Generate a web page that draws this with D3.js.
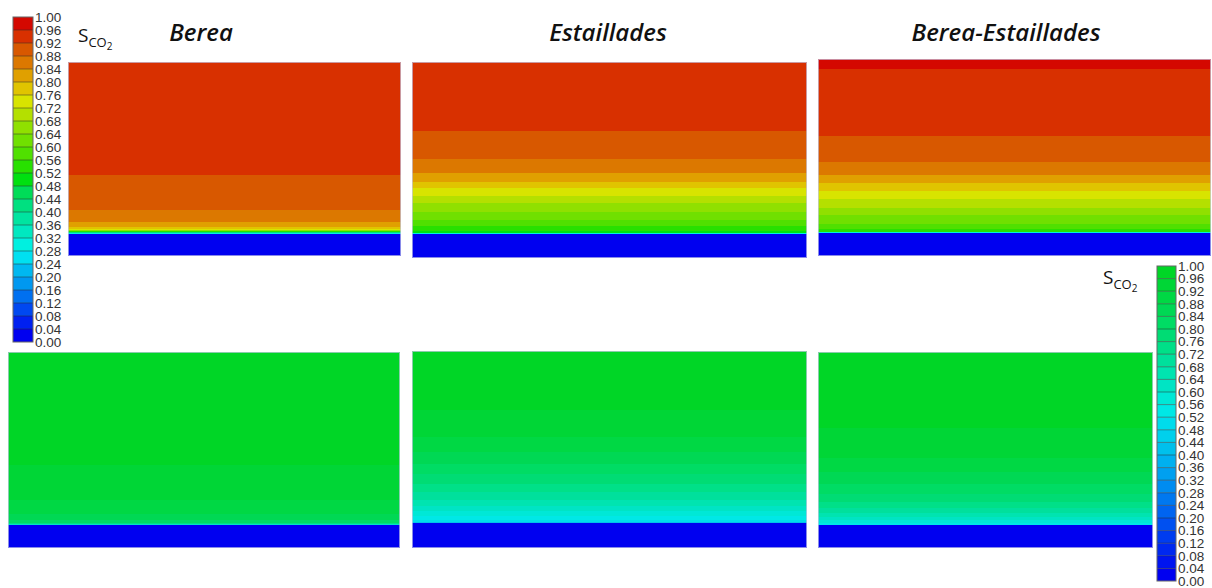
<!DOCTYPE html>
<html>
<head>
<meta charset="utf-8">
<script src="https://cdn.jsdelivr.net/npm/d3@7"></script>
<style>
  html, body { margin: 0; padding: 0; background: #fff; }
  svg { display: block; }
</style>
</head>
<body>
<svg id="chart" width="1212" height="588"></svg>
<script>
// ---- contour levels and colour tables -------------------------------------
const levels = d3.range(0, 25.5, 1).map(i => +(i * 0.04).toFixed(2));   // 0.00 … 1.00
const tickLabels = levels.map(v => v.toFixed(2));

// drainage palette (low → high saturation)
const drainColors = [
  "#0000f0", "#0020f0", "#0048f0", "#0070f0", "#0098f0", "#00b8f0", "#00e0f0",
  "#00f0e0", "#00e8c0", "#00e4a0", "#00e080", "#00dc58", "#00e010", "#28e000",
  "#50e000", "#70e000", "#90e000", "#b4e000", "#d8e400", "#e0c400", "#e0a000",
  "#dc7800", "#d85800", "#d83000", "#d40800"
];
// imbibition palette (low → high saturation)
const imbColors = [
  "#0000f0", "#0014f0", "#0028f0", "#003cf0", "#0050f0", "#0064f0", "#0078f0",
  "#008cf0", "#00a0f0", "#00b0f0", "#00c0ec", "#00d0ec", "#00dcec", "#00e8e6",
  "#00e8d6", "#00e4c4", "#00e4b0", "#00e09c", "#00e088", "#00dc74", "#00dc64",
  "#00d854", "#00d844", "#00d636", "#00d626"
];

// ---- saturation profiles: band edges (depth, % of sample) and S_CO2 per band
// drainage (top row)
const drainBereaDepth = [0, 58.2, 76.3, 82.5, 85.1, 86.1, 86.6, 87.1, 87.6, 88.1, 88.7, 100];
const drainBereaS     = [0.94, 0.90, 0.86, 0.82, 0.78, 0.74, 0.66, 0.54, 0.42, 0.30, 0.02];

const drainEstDepth = [0, 35.2, 49.5, 56.6, 61.2, 64.3, 68.4, 71.9, 76.5, 80.6, 83.7, 86.2, 87.2, 87.8, 100];
const drainEstS     = [0.94, 0.90, 0.86, 0.82, 0.78, 0.74, 0.70, 0.66, 0.62, 0.58, 0.54, 0.50, 0.30, 0.02];

const drainBEDepth = [0, 5.1, 39.1, 52.3, 58.9, 62.9, 67.0, 71.1, 75.6, 79.2, 83.8, 86.3, 87.8, 88.3, 100];
const drainBES     = [0.98, 0.94, 0.90, 0.86, 0.82, 0.78, 0.74, 0.70, 0.66, 0.62, 0.58, 0.52, 0.30, 0.02];

// imbibition (bottom row)
const imbBereaDepth = [0, 57.7, 75.5, 82.7, 85.7, 87.2, 87.8, 88.3, 100];
const imbBereaS     = [0.98, 0.94, 0.90, 0.86, 0.82, 0.74, 0.60, 0.02];

const imbEstDepth = [0, 29.9, 43.7, 51.3, 57.4, 62.4, 67.5, 71.6, 75.6, 78.7, 81.2, 83.8, 85.8, 86.8, 87.3, 100];
const imbEstS     = [0.98, 0.94, 0.90, 0.86, 0.82, 0.78, 0.74, 0.70, 0.66, 0.62, 0.58, 0.54, 0.50, 0.40, 0.02];

const imbBEDepth = [0, 38.8, 54.1, 61.2, 67.3, 72.4, 76.5, 79.6, 82.1, 84.2, 85.7, 87.2, 88.3, 100];
const imbBES     = [0.98, 0.94, 0.90, 0.86, 0.82, 0.78, 0.74, 0.70, 0.66, 0.62, 0.58, 0.54, 0.02];

const titles = ["Berea", "Estaillades", "Berea-Estaillades"];

// ---- scales ---------------------------------------------------------------
const drainColor = d3.scaleQuantize().domain([0, 1]).range(drainColors);
const imbColor   = d3.scaleQuantize().domain([0, 1]).range(imbColors);

const svg = d3.select("#chart");
const fontSans = "'Open Sans', 'Noto Sans', sans-serif";

// ---- panel layout ---------------------------------------------------------
const panels = [
  { x0: 68,  x1: 401,  y0: 62,  y1: 256, depth: drainBereaDepth, s: drainBereaS, color: drainColor },
  { x0: 412, x1: 807,  y0: 62,  y1: 258, depth: drainEstDepth,   s: drainEstS,   color: drainColor },
  { x0: 818, x1: 1211, y0: 59,  y1: 256, depth: drainBEDepth,    s: drainBES,    color: drainColor },
  { x0: 8,   x1: 400,  y0: 352, y1: 548, depth: imbBereaDepth,   s: imbBereaS,   color: imbColor },
  { x0: 412, x1: 807,  y0: 351, y1: 548, depth: imbEstDepth,     s: imbEstS,     color: imbColor },
  { x0: 818, x1: 1153, y0: 352, y1: 548, depth: imbBEDepth,      s: imbBES,      color: imbColor }
];

panels.forEach(p => {
  const y = d3.scaleLinear().domain([0, 100]).range([p.y0, p.y1]);
  const x = d3.scaleLinear().domain([0, 1]).range([p.x0, p.x1]);
  const bands = p.s.map((v, i) => ({ v, d0: p.depth[i], d1: p.depth[i + 1] }));
  const g = svg.append("g");
  g.selectAll("rect.band")
    .data(bands)
    .join("rect")
    .attr("class", "band")
    .attr("x", x(0))
    .attr("width", x(1) - x(0))
    .attr("y", d => y(d.d0))
    .attr("height", d => y(d.d1) - y(d.d0))
    .attr("fill", d => p.color(d.v))
    .attr("shape-rendering", "crispEdges");
  g.append("rect")
    .attr("x", x(0) + 0.5).attr("y", y(0) + 0.5)
    .attr("width", x(1) - x(0) - 1).attr("height", y(100) - y(0) - 1)
    .attr("fill", "none")
    .attr("stroke", "#c4c8e6")
    .attr("stroke-opacity", 0.7)
    .attr("stroke-width", 1);
});

// ---- titles ---------------------------------------------------------------
const titleX = [201, 608, 1006];
svg.selectAll("text.title")
  .data(titles)
  .join("text")
  .attr("class", "title")
  .attr("x", (d, i) => titleX[i])
  .attr("y", 41)
  .attr("text-anchor", "middle")
  .attr("font-family", fontSans)
  .attr("font-weight", 600)
  .attr("font-style", "italic")
  .attr("font-size", 24)
  .attr("fill", "#111")
  .text(d => d);

// ---- colour legends -------------------------------------------------------
function legend(cfg) {
  const y = d3.scaleLinear().domain([0, 1]).range([cfg.y1, cfg.y0]);
  const g = svg.append("g");
  const bins = levels.slice(0, -1).map((v, i) => ({ lo: v, hi: levels[i + 1] }));
  g.selectAll("rect.bin")
    .data(bins)
    .join("rect")
    .attr("x", cfg.x)
    .attr("width", cfg.w)
    .attr("y", d => y(d.hi))
    .attr("height", d => y(d.lo) - y(d.hi))
    .attr("fill", d => cfg.color((d.lo + d.hi) / 2));
  g.selectAll("line.sep")
    .data(levels.slice(1, -1))
    .join("line")
    .attr("x1", cfg.x).attr("x2", cfg.x + cfg.w)
    .attr("y1", d => y(d)).attr("y2", d => y(d))
    .attr("stroke", "#2a2a2a")
    .attr("stroke-opacity", 0.55)
    .attr("stroke-width", 0.9);
  g.append("rect")
    .attr("x", cfg.x).attr("y", cfg.y0)
    .attr("width", cfg.w).attr("height", cfg.y1 - cfg.y0)
    .attr("fill", "none").attr("stroke", "#666").attr("stroke-width", 1);

  const axis = d3.axisRight(y)
    .tickValues(levels)
    .tickFormat((d, i) => tickLabels[i])
    .tickSize(0)
    .tickPadding(2);
  const ag = g.append("g")
    .attr("transform", `translate(${cfg.x + cfg.w},0)`)
    .call(axis);
  ag.select(".domain").remove();
  ag.selectAll("text")
    .attr("font-family", "'Liberation Sans', Arial, sans-serif")
    .attr("font-size", 13.5)
    .attr("fill", "#333");

  // S_CO2 caption
  const t = svg.append("text")
    .attr("x", cfg.capX).attr("y", cfg.capY)
    .attr("font-family", fontSans)
    .attr("fill", "#111");
  t.append("tspan").attr("font-size", 19).text("S");
  t.append("tspan").attr("font-size", 13).attr("dy", 5).text("CO");
  t.append("tspan").attr("font-size", 10).attr("dy", 3).text("2");
}

legend({ x: 13,   w: 20, y0: 17,  y1: 342, color: drainColor, capX: 78,   capY: 42 });
legend({ x: 1157, w: 19, y0: 266, y1: 581, color: imbColor,   capX: 1103, capY: 284 });
</script>
</body>
</html>
